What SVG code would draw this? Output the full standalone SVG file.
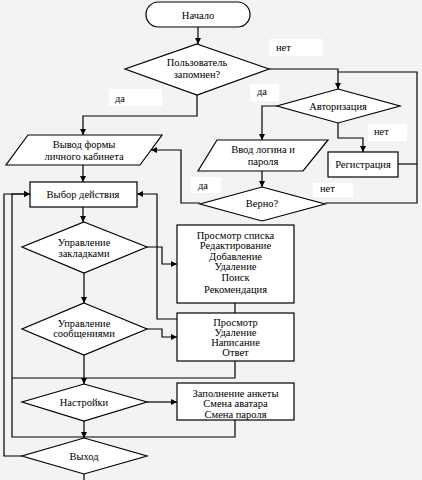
<svg xmlns="http://www.w3.org/2000/svg" width="422" height="480" viewBox="0 0 422 480">
<style>
.s{fill:#fff;stroke:#000;stroke-width:1.2}
.c{fill:none;stroke:#000;stroke-width:1.2}
text{font-family:'Liberation Serif','Times New Roman','DejaVu Serif',serif;font-size:10.5px;fill:#000}
.t{text-anchor:middle}
.lb{fill:#fff;stroke:none}
</style>
<defs>
<marker id="a" markerUnits="userSpaceOnUse" markerWidth="7" markerHeight="7" refX="6" refY="3" orient="auto">
<path d="M0,0 L6,3 L0,6 z" fill="#000"/>
</marker>
</defs>
<rect width="422" height="480" fill="#f3f3f3"/>
<g id="connectors">
<path class="c" d="M198,27 V44" marker-end="url(#a)"/>
<path class="c" d="M269,69 H338 V89" marker-end="url(#a)"/>
<path class="c" d="M325,203 H417 V72 H338"/>
<path class="c" d="M398,164 H417"/>
<path class="c" d="M197,95 V116 H83 V135" marker-end="url(#a)"/>
<path class="c" d="M277,106 H262 V140" marker-end="url(#a)"/>
<path class="c" d="M338,123 V138 H363 V152" marker-end="url(#a)"/>
<path class="c" d="M262,171 V187" marker-end="url(#a)"/>
<path class="c" d="M200,203 H181 V150 H151" marker-end="url(#a)"/>
<path class="c" d="M83,165 V182" marker-end="url(#a)"/>
<path class="c" d="M83,207 V222" marker-end="url(#a)"/>
<path class="c" d="M147,247 H162 V264 H177" marker-end="url(#a)"/>
<path class="c" d="M235,303 V313"/>
<path class="c" d="M177,319 H157 V194 H137" marker-end="url(#a)"/>
<path class="c" d="M84,273 V303" marker-end="url(#a)"/>
<path class="c" d="M147,329 H162 V337 H177" marker-end="url(#a)"/>
<path class="c" d="M235,361 V378 H12"/>
<path class="c" d="M235,420 V437 H12 V194 H30" marker-end="url(#a)"/>
<path class="c" d="M84,355 V384" marker-end="url(#a)"/>
<path class="c" d="M147,402 H177" marker-end="url(#a)"/>
<path class="c" d="M84,421 V438" marker-end="url(#a)"/>
<path class="c" d="M22,456 H4 V194 H30" marker-end="url(#a)"/>
<path class="c" d="M84,474 V480"/>
</g>
<g id="labels">
<rect class="lb" x="269" y="39" width="54" height="17"/>
<text x="276" y="51">нет</text>
<rect class="lb" x="109" y="89" width="53" height="17"/>
<text x="115" y="102">да</text>
<rect class="lb" x="250" y="84" width="29" height="17"/>
<text x="257" y="95">да</text>
<rect class="lb" x="368" y="124" width="39" height="17"/>
<text x="374" y="135">нет</text>
<rect class="lb" x="191" y="177" width="30" height="16"/>
<text x="198" y="189">да</text>
<rect class="lb" x="313" y="183" width="40" height="14"/>
<text x="320" y="192">нет</text>
</g>
<g id="start">
<rect class="s" x="146" y="2" width="104" height="25" rx="12.5"/>
<text class="t" x="198" y="19">Начало</text>
</g>
<g id="remembered">
<polygon class="s" points="197,44 269,69 197,95 125,69"/>
<text class="t" x="197" y="66">Пользователь</text>
<text class="t" x="197" y="78">запомнен?</text>
</g>
<g id="auth">
<polygon class="s" points="338,89 400,106 338,123 277,106"/>
<text class="t" x="338" y="110">Авторизация</text>
</g>
<g id="register">
<rect class="s" x="328" y="152" width="70" height="25"/>
<text class="t" x="363" y="168">Регистрация</text>
</g>
<g id="login">
<polygon class="s" points="217,140 328,140 303,171 198,171"/>
<text class="t" x="263" y="153">Ввод логина и</text>
<text class="t" x="263" y="165">пароля</text>
</g>
<g id="correct">
<polygon class="s" points="262,187 325,204 262,221 200,204"/>
<text class="t" x="262" y="207">Верно?</text>
</g>
<g id="cabinet">
<polygon class="s" points="28,135 162,135 140,165 6,165"/>
<text class="t" x="84" y="148">Вывод формы</text>
<text class="t" x="84" y="160">личного кабинета</text>
</g>
<g id="choose">
<rect class="s" x="30" y="182" width="107" height="25"/>
<text class="t" x="83" y="198">Выбор действия</text>
</g>
<g id="bookmarks">
<polygon class="s" points="84,222 147,247 84,273 22,247"/>
<text class="t" x="84" y="246">Управление</text>
<text class="t" x="84" y="257">закладками</text>
</g>
<g id="bookmarks-actions">
<rect class="s" x="177" y="225" width="117" height="78"/>
<text class="t" x="235.5" y="238.5">Просмотр списка</text>
<text class="t" x="235.5" y="249">Редактирование</text>
<text class="t" x="235.5" y="259.5">Добавление</text>
<text class="t" x="235.5" y="270">Удаление</text>
<text class="t" x="235.5" y="281">Поиск</text>
<text class="t" x="235.5" y="293">Рекомендация</text>
</g>
<g id="messages">
<polygon class="s" points="84,303 147,329 84,355 22,329"/>
<text class="t" x="84" y="327">Управление</text>
<text class="t" x="84" y="337">сообщениями</text>
</g>
<g id="messages-actions">
<rect class="s" x="177" y="313" width="117" height="48"/>
<text class="t" x="235.5" y="325.5">Просмотр</text>
<text class="t" x="235.5" y="335.5">Удаление</text>
<text class="t" x="235.5" y="346">Написание</text>
<text class="t" x="235.5" y="356">Ответ</text>
</g>
<g id="settings">
<polygon class="s" points="84,384 147,402 84,421 22,402"/>
<text class="t" x="84" y="405.5">Настройки</text>
</g>
<g id="settings-actions">
<rect class="s" x="177" y="383" width="117" height="37"/>
<text class="t" x="235.5" y="396.5">Заполнение анкеты</text>
<text class="t" x="235.5" y="406.5">Смена аватара</text>
<text class="t" x="235.5" y="417.5">Смена пароля</text>
</g>
<g id="exit">
<polygon class="s" points="84,438 147,456 84,474 22,456"/>
<text class="t" x="84" y="459.5">Выход</text>
</g>
</svg>
